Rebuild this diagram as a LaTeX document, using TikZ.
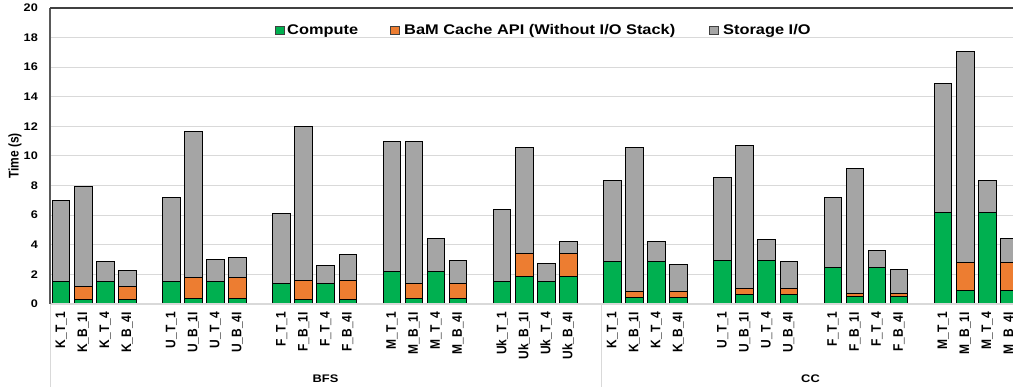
\documentclass[tikz,border=0pt]{standalone}
\usepackage{fontspec}
\setmainfont{Liberation Sans}
\usepackage{graphicx}
\definecolor{cgreen}{HTML}{00B050}
\definecolor{corange}{HTML}{ED7D31}
\definecolor{cgray}{HTML}{A5A5A5}
\definecolor{cgrid}{HTML}{D9D9D9}
\definecolor{caxis}{HTML}{595959}
\definecolor{cframe}{HTML}{404040}
% horizontal / vertical stretching of labels
\newcommand\hstr[2]{\scalebox{#1}[1]{#2}}
\newcommand\vstr[2]{\scalebox{1}[#1]{#2}}
\begin{document}
\begin{tikzpicture}[x=1pt,y=-1pt,
  gridline/.style={draw=cgrid,line width=1pt},
  segment/.style={draw=black,line width=0.9pt},
  ticklab/.style={anchor=east,inner sep=0pt,font=\fontsize{11}{13}\selectfont\bfseries},
  catlab/.style={anchor=east,rotate=90,inner sep=0pt,font=\fontsize{12}{14}\selectfont\bfseries},
  grouplab/.style={inner sep=0pt,font=\fontsize{11}{13}\selectfont\bfseries},
  legtext/.style={anchor=base west,inner sep=0pt,font=\fontsize{14}{16}\selectfont\bfseries},
  legkey/.style={draw=cframe,line width=0.6pt}]
\useasboundingbox (0,0) rectangle (1013,387);
\clip (0,0) rectangle (1013,387);
\fill[white] (0,0) rectangle (1013,387);

% horizontal gridlines
\foreach \v in {2,4,...,18}
  \draw[gridline] (50,{304-14.8*\v}) -- (1030,{304-14.8*\v});

% y tick labels
\foreach \v in {0,2,...,20}
  \node[ticklab] (tick\v) at (38,{304-14.8*\v}) {\hstr{1.15}{\v}};

% axis title
\node[inner sep=0pt,rotate=90,font=\fontsize{12}{14}\selectfont\bfseries] (ytitle) at (15,156) {\vstr{1.17}{Time (s)}};

% stacked bars: slot / label / compute / compute+cache / total
\foreach \i/\lab/\g/\o/\t in {
  0/K\_T\_1/1.51/1.51/7.03, 1/K\_B\_1I/0.34/1.2/7.95, 2/K\_T\_4/1.51/1.51/2.9, 3/K\_B\_4I/0.34/1.18/2.24,
  5/U\_T\_1/1.55/1.55/7.17, 6/U\_B\_1I/0.38/1.82/11.63, 7/U\_T\_4/1.55/1.55/2.98, 8/U\_B\_4I/0.38/1.82/3.17,
  10/F\_T\_1/1.38/1.38/6.09, 11/F\_B\_1I/0.3/1.6/12.03, 12/F\_T\_4/1.38/1.38/2.58, 13/F\_B\_4I/0.3/1.6/3.38,
  15/M\_T\_1/2.23/2.23/10.95, 16/M\_B\_1I/0.36/1.4/10.97, 17/M\_T\_4/2.23/2.23/4.42, 18/M\_B\_4I/0.36/1.4/2.97,
  20/Uk\_T\_1/1.5/1.5/6.4, 21/Uk\_B\_1I/1.87/3.43/10.58, 22/Uk\_T\_4/1.5/1.5/2.72, 23/Uk\_B\_4I/1.87/3.43/4.22,
  25/K\_T\_1/2.87/2.87/8.38, 26/K\_B\_1I/0.43/0.86/10.58, 27/K\_T\_4/2.87/2.87/4.26, 28/K\_B\_4I/0.43/0.86/2.68,
  30/U\_T\_1/2.92/2.92/8.54, 31/U\_B\_1I/0.66/1.08/10.73, 32/U\_T\_4/2.92/2.92/4.36, 33/U\_B\_4I/0.66/1.08/2.88,
  35/F\_T\_1/2.45/2.45/7.17, 36/F\_B\_1I/0.5/0.7/9.17, 37/F\_T\_4/2.45/2.45/3.65, 38/F\_B\_4I/0.5/0.7/2.35,
  40/M\_T\_1/6.2/6.2/14.9, 41/M\_B\_1I/0.92/2.83/17.05, 42/M\_T\_4/6.2/6.2/8.37, 43/M\_B\_4I/0.92/2.83/4.45}{
  \pgfmathsetmacro\xl{52.3+\i*22.05}
  \pgfmathsetmacro\xr{\xl+17.6}
  \pgfmathsetmacro\xc{\xl+8.8}
  \draw[segment,fill=cgray]   (\xl,{304-14.8*\o}) rectangle (\xr,{304-14.8*\t});
  \draw[segment,fill=corange] (\xl,{304-14.8*\g}) rectangle (\xr,{304-14.8*\o});
  \draw[segment,fill=cgreen]  (\xl,304) rectangle (\xr,{304-14.8*\g});
  \node[catlab] (lab\i) at (\xc,312) {\vstr{1.15}{\lab}};
}

% axes and category separators
\draw[draw=cgrid,line width=1.2pt] (50,304) -- (1030,304);
\draw[draw=cgrid,line width=1pt] (50,304) -- (50,387);
\draw[draw=cgrid,line width=1pt] (601.25,304) -- (601.25,387);
\draw[draw=caxis,line width=1.2pt] (50,304) -- (50,8);
\draw[draw=cframe,line width=1.2pt] (50,8) -- (1030,8);

% group labels
\node[grouplab] (bfs) at (325.5,379) {\hstr{1.17}{BFS}};
\node[grouplab] (cc) at (810.5,379) {\hstr{1.17}{CC}};

% legend
\draw[legkey,fill=cgreen]  (275,26.5) rectangle (284,34.5);
\node[legtext] (legA) at (287,35) {\hstr{1.17}{Compute}};
\draw[legkey,fill=corange] (390,26.5) rectangle (399,34.5);
\node[legtext] (legB) at (404,35) {\hstr{1.17}{BaM Cache API (Without I/O Stack)}};
\draw[legkey,fill=cgray]   (709,26.5) rectangle (718.5,34.5);
\node[legtext] (legC) at (723,35) {\hstr{1.17}{Storage I/O}};
\end{tikzpicture}
\end{document}
